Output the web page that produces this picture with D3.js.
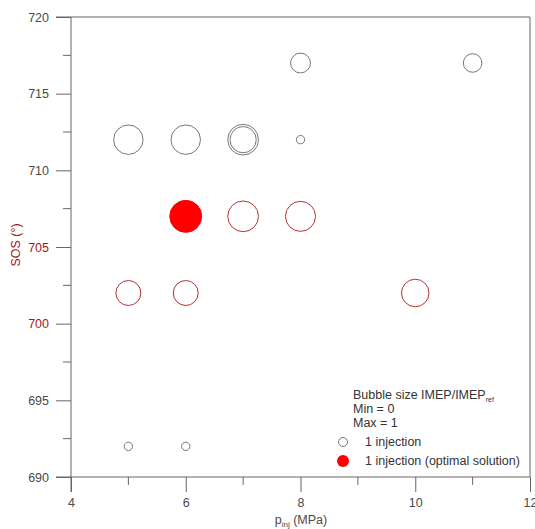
<!DOCTYPE html>
<html>
<head>
<meta charset="utf-8">
<script src="https://cdn.jsdelivr.net/npm/d3@7"></script>
<style>
  body { margin: 0; background: #fff; }
  text { font-family: "Liberation Sans", Arial, sans-serif; }
</style>
</head>
<body>
<div id="chart"></div>
<script>
// Bubble data: injection pressure (MPa), start of injection (deg), IMEP/IMEP_ref
const pInj   = [8, 11, 5, 6, 7, 7, 8, 5, 6, 7, 8, 5, 6, 10, 6];
const sos    = [717, 717, 712, 712, 712, 712, 712, 692, 692, 707, 707, 702, 702, 702, 707];
const imep   = [0.62, 0.58, 0.92, 0.92, 0.96, 0.82, 0.26, 0.26, 0.26, 0.96, 0.94, 0.78, 0.78, 0.86, 1.0];
const kind   = ['std', 'std', 'std', 'std', 'std', 'std', 'std', 'std', 'std', 'red', 'red', 'red', 'red', 'red', 'opt'];

const xTicks = [4, 6, 8, 10, 12];
const yTicks = [690, 695, 700, 705, 710, 715, 720];
const redTicks = [700, 705];
const legendLines = ['Min = 0', 'Max = 1'];

const width = 535, height = 529;
const mLeft = 71, mRight = 530, mTop = 17, mBottom = 477;
const fs = 12.5;

const svg = d3.select('#chart').append('svg')
    .attr('width', width)
    .attr('height', height);

const x = d3.scaleLinear().domain([4, 12]).range([mLeft, mRight]);
const y = d3.scaleLinear().domain([690, 720]).range([mBottom, mTop]);
const r = d3.scaleLinear().domain([0, 1]).range([0, 16]);

const axisColor = '#666';
const labelColor = '#4a4a4a';
const darkRed = '#a01818';

// frame (top, right, bottom)
svg.append('path')
    .attr('d', `M${mLeft - 15},${mTop}H${mRight}V${mBottom}H${mLeft - 15}`)
    .attr('fill', 'none')
    .attr('stroke', axisColor);

// y axis
const yAxis = svg.append('g')
    .attr('transform', `translate(${mLeft},0)`)
    .call(d3.axisLeft(y).tickValues(yTicks).tickSize(15).tickPadding(7).tickFormat(d3.format('d')));
yAxis.call(g => g.select('.domain').remove());
svg.append('line')
    .attr('x1', mLeft).attr('x2', mLeft)
    .attr('y1', mTop).attr('y2', mBottom + 15)
    .attr('stroke', axisColor);
// y minor ticks
svg.append('g').selectAll('line')
    .data(d3.range(692.5, 720, 5))
    .join('line')
    .attr('x1', mLeft - 8).attr('x2', mLeft)
    .attr('y1', d => y(d)).attr('y2', d => y(d))
    .attr('stroke', axisColor);

// x axis
const xAxis = svg.append('g')
    .attr('transform', `translate(0,${mBottom})`)
    .call(d3.axisBottom(x).tickValues(xTicks).tickSize(15).tickPadding(6).tickFormat(d3.format('d')));
xAxis.call(g => g.select('.domain').remove());
svg.append('g').selectAll('line')
    .data(d3.range(5, 12, 2))
    .join('line')
    .attr('x1', d => x(d)).attr('x2', d => x(d))
    .attr('y1', mBottom).attr('y2', mBottom + 8)
    .attr('stroke', axisColor);

svg.selectAll('.tick line').attr('stroke', axisColor);
svg.selectAll('.tick text')
    .attr('font-size', fs)
    .attr('font-family', '"Liberation Sans", Arial, sans-serif')
    .attr('fill', labelColor);
yAxis.selectAll('.tick text')
    .attr('fill', d => redTicks.includes(d) ? darkRed : labelColor);

// axis titles
svg.append('text')
    .attr('transform', `translate(20,245) rotate(-90)`)
    .attr('text-anchor', 'middle')
    .attr('font-size', fs)
    .attr('fill', darkRed)
    .text('SOS (°)');

const xt = svg.append('text')
    .attr('x', 301).attr('y', 524)
    .attr('text-anchor', 'middle')
    .attr('font-size', fs)
    .attr('fill', labelColor);
xt.append('tspan').text('p');
xt.append('tspan').attr('font-size', 8).attr('dy', 3).text('inj');
xt.append('tspan').attr('dy', -3).text(' (MPa)');

// bubbles
const points = pInj.map((p, i) => ({ p, s: sos[i], v: imep[i], k: kind[i] }));
svg.append('g').selectAll('circle')
    .data(points)
    .join('circle')
    .attr('cx', d => x(d.p))
    .attr('cy', d => y(d.s))
    .attr('r', d => r(d.v))
    .attr('fill', d => d.k === 'opt' ? '#ff0000' : 'none')
    .attr('stroke', d => d.k === 'std' ? '#777' : (d.k === 'red' ? '#b83030' : '#ff0000'))
    .attr('stroke-width', 1);

// legend
const lg = svg.append('g').attr('font-size', fs).attr('fill', '#333');
const title = lg.append('text').attr('x', 353).attr('y', 399);
title.append('tspan').text('Bubble size IMEP/IMEP');
title.append('tspan').attr('font-size', 7).attr('dy', 3).text('ref');
lg.selectAll('.ll')
    .data(legendLines)
    .join('text')
    .attr('class', 'll')
    .attr('x', 353)
    .attr('y', (d, i) => 413 + i * 14)
    .text(d => d);

lg.append('circle').attr('cx', 343).attr('cy', 442).attr('r', 4.5)
    .attr('fill', 'none').attr('stroke', '#777');
lg.append('text').attr('x', 365).attr('y', 446).text('1 injection');
lg.append('circle').attr('cx', 343).attr('cy', 461).attr('r', 6)
    .attr('fill', '#ff0000');
lg.append('text').attr('x', 365).attr('y', 465).text('1 injection (optimal solution)');
</script>
</body>
</html>
